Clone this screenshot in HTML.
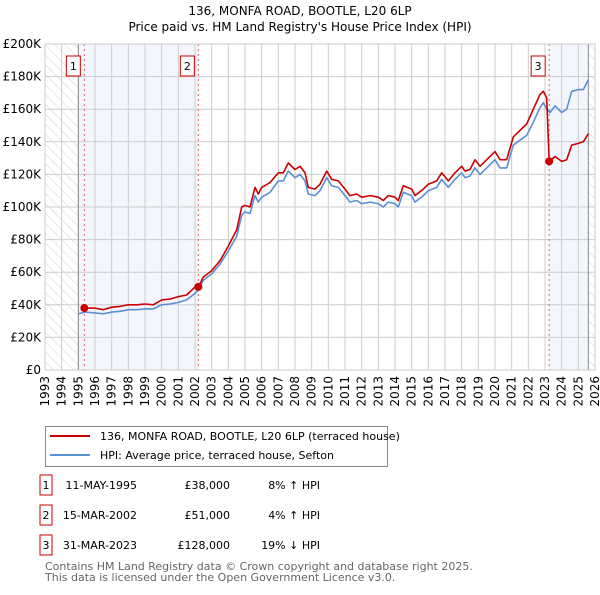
<!DOCTYPE html>
<html><head><meta charset="utf-8"><style>
body{margin:0;background:#fff;font-family:"Liberation Sans","DejaVu Sans",sans-serif;}
svg text{font-family:"DejaVu Sans","Liberation Sans",sans-serif;}
</style></head><body>
<svg id="c" width="600" height="590" viewBox="0 0 600 590" xmlns="http://www.w3.org/2000/svg">
<defs><pattern id="hatch" width="7" height="7" patternUnits="userSpaceOnUse" patternTransform="rotate(-45)"><line x1="0" y1="0" x2="0" y2="7" stroke="#d4d4d4" stroke-width="1"/></pattern></defs>
<text x="300" y="15" text-anchor="middle" font-size="12">136, MONFA ROAD, BOOTLE, L20 6LP</text>
<text x="300" y="31" text-anchor="middle" font-size="12">Price paid vs. HM Land Registry's House Price Index (HPI)</text>
<g id="plot"></g>
<g>
<rect x="45.5" y="426.5" width="342" height="40" fill="#fff" stroke="#888"/>
<line x1="50" y1="436" x2="90" y2="436" stroke="#cc0000" stroke-width="2"/>
<text x="100" y="440" font-size="11">136, MONFA ROAD, BOOTLE, L20 6LP (terraced house)</text>
<line x1="50" y1="455" x2="90" y2="455" stroke="#5b8fd4" stroke-width="2"/>
<text x="100" y="459" font-size="11">HPI: Average price, terraced house, Sefton</text>
</g>
<g id="table" font-size="11"></g>
<text x="45" y="570" font-size="11" fill="#666">Contains HM Land Registry data © Crown copyright and database right 2025.</text>
<text x="45" y="581" font-size="11" fill="#666">This data is licensed under the Open Government Licence v3.0.</text>
</svg>
<script>
const hpiDates=[1995.0,1995.4,1996,1996.5,1997,1997.5,1998,1998.5,1999,1999.5,2000,2000.5,2001,2001.5,2002,2002.2,2002.5,2003,2003.5,2004,2004.5,2004.8,2005,2005.3,2005.6,2005.8,2006,2006.5,2007,2007.3,2007.6,2008,2008.3,2008.6,2008.8,2009.2,2009.5,2009.9,2010.2,2010.6,2011,2011.3,2011.7,2012,2012.5,2013,2013.3,2013.6,2014,2014.2,2014.5,2015,2015.2,2015.7,2016,2016.5,2016.8,2017.2,2017.6,2018,2018.2,2018.5,2018.8,2019.1,2019.5,2020,2020.3,2020.7,2021.1,2021.5,2021.9,2022.3,2022.7,2022.9,2023.1,2023.3,2023.6,2024,2024.3,2024.6,2025,2025.3,2025.6];
const hpiValues=[34.5,35.5,35,34.5,35.5,36,37,37,37.5,37.5,40,40.5,41.5,43,47,49,55,59,65,73,82,95,97,96,107,103,106,109,116,116,122,118,120,116,108,107,110,118,113,112,107,103,104,102,103,102,100,103,102,100,109,107,103,107,110,112,117,112,117,121,118,119,124,120,124,129,124,124,138,141,144,152,161,164,160,158,162,158,160,171,172,172,178];
const priceDates=[1995.36,1996,1996.5,1997,1997.5,1998,1998.5,1999,1999.5,2000,2000.5,2001,2001.5,2002,2002.2,2002.5,2003,2003.5,2004,2004.5,2004.8,2005,2005.3,2005.6,2005.8,2006,2006.5,2007,2007.3,2007.6,2008,2008.3,2008.6,2008.8,2009.2,2009.5,2009.9,2010.2,2010.6,2011,2011.3,2011.7,2012,2012.5,2013,2013.3,2013.6,2014,2014.2,2014.5,2015,2015.2,2015.7,2016,2016.5,2016.8,2017.2,2017.6,2018,2018.2,2018.5,2018.8,2019.1,2019.5,2020,2020.3,2020.7,2021.1,2021.5,2021.9,2022.3,2022.7,2022.9,2023.1,2023.25,2023.6,2024,2024.3,2024.6,2025,2025.3,2025.6];
const priceValues=[38,38,37,38.5,39,40,40,40.5,40,43,43.5,45,46,51,51,57,61,67,76,86,100,101,100,112,108,112,115,121,121,127,123,125,121,112,111,114,122,117,116,111,107,108,106,107,106,104,107,106,104,113,111,107,111,114,116,121,116,121,125,122,123,129,125,129,134,129,129,143,147,151,160,169,171,167,128,131,128,129,138,139,140,145];
const sales=[{n:"1",d:1995.36,v:38,date:"11-MAY-1995",price:"£38,000",diff:"8% ↑ HPI"},{n:"2",d:2002.2,v:51,date:"15-MAR-2002",price:"£51,000",diff:"4% ↑ HPI"},{n:"3",d:2023.25,v:128,date:"31-MAR-2023",price:"£128,000",diff:"19% ↓ HPI"}];
const yTicks=[0,20,40,60,80,100,120,140,160,180,200];
const xTicks=[];for(let y=1993;y<=2026;y++)xTicks.push(y);
const NS="http://www.w3.org/2000/svg";
const L=45,R=595,T=44,B=370,X0=1993,X1=2026,YMAX=200;
const xs=d=>L+(d-X0)/(X1-X0)*(R-L);
const ys=v=>B-v/YMAX*(B-T);
const plot=document.getElementById('plot');
function mk(tag,attrs,parent){const e=document.createElementNS(NS,tag);for(const k in attrs)e.setAttribute(k,attrs[k]);(parent||plot).appendChild(e);return e;}
let e;
e=mk('rect',{x:L,y:T,width:R-L,height:B-T,fill:'#fff'});


e=mk('rect',{x:xs(1995),y:T,width:xs(2002.2)-xs(1995),height:B-T,fill:'#eef3fc',opacity:0.7});


e=mk('rect',{x:xs(2023.25),y:T,width:xs(2025.6)-xs(2023.25),height:B-T,fill:'#eef3fc',opacity:0.7});


e=mk('rect',{x:L,y:T,width:xs(1995)-L,height:B-T,fill:'url(#hatch)'});


e=mk('rect',{x:xs(2025.6),y:T,width:R-xs(2025.6),height:B-T,fill:'url(#hatch)'});


for(const t of yTicks){
 e=mk('line',{x1:L,x2:R,y1:ys(t),y2:ys(t),stroke:'#ccc','stroke-width':1});
 
 
 e=mk('text',{x:L-4,y:ys(t)+4,'text-anchor':'end','font-size':12});
 e.textContent=t===0?'£0':'£'+t+'K';
 
 
}
for(const t of xTicks){
 e=mk('line',{x1:xs(t),x2:xs(t),y1:T,y2:B,stroke:'#ccc','stroke-width':1});
 
 
 e=mk('text',{x:0,y:0,'text-anchor':'end','font-size':12,transform:`translate(${xs(t)+4},${B+6}) rotate(-90)`});
 e.textContent=t;
 
 
}
e=mk('line',{x1:xs(1995),x2:xs(1995),y1:T,y2:B,stroke:'#888'});


e=mk('line',{x1:xs(2025.6),x2:xs(2025.6),y1:T,y2:B,stroke:'#888'});


for(const s of sales){
 e=mk('line',{x1:xs(s.d),x2:xs(s.d),y1:T,y2:B,stroke:'#e06060','stroke-dasharray':'2,3'});
 
 
}
function path(dates,vals,color,name){
 const d=dates.map((x,i)=>(i?'L':'M')+xs(x).toFixed(1)+','+ys(vals[i]).toFixed(1)).join('');
 const p=mk('path',{d:d,fill:'none',stroke:color,'stroke-width':1.6,'stroke-linejoin':'round'});
 
 
}
path(hpiDates,hpiValues,'#5b8fd4','hpi-line');
path(priceDates,priceValues,'#cc0000','price-paid-line');
for(const s of sales){
 e=mk('circle',{cx:xs(s.d),cy:ys(s.v),r:4,fill:'#cc0000'});
 
 
 e=mk('rect',{x:xs(s.d)-18,y:T+12,width:14,height:20,fill:'#fff',stroke:'#cc0000'});
 
 
 e=mk('text',{x:xs(s.d)-11,y:T+26,'text-anchor':'middle','font-size':11});
 e.textContent=s.n;
 
 
}
e=mk('rect',{x:L,y:T,width:R-L,height:B-T,fill:'none',stroke:'#ccc'});


const tb=document.getElementById('table');
sales.forEach((s,i)=>{
 const y=489+i*30;
 e=mk('rect',{x:40,y:y-14,width:12,height:20,fill:'#fff',stroke:'#cc0000'},tb);
 
 
 e=mk('text',{x:46,y:y,'text-anchor':'middle'},tb);e.textContent=s.n;
 
 
 e=mk('text',{x:137,y:y,'text-anchor':'end'},tb);e.textContent=s.date;
 
 
 e=mk('text',{x:230,y:y,'text-anchor':'end'},tb);e.textContent=s.price;
 
 
 e=mk('text',{x:320,y:y,'text-anchor':'end'},tb);e.textContent=s.diff;
 
 
});
</script>
</body></html>
